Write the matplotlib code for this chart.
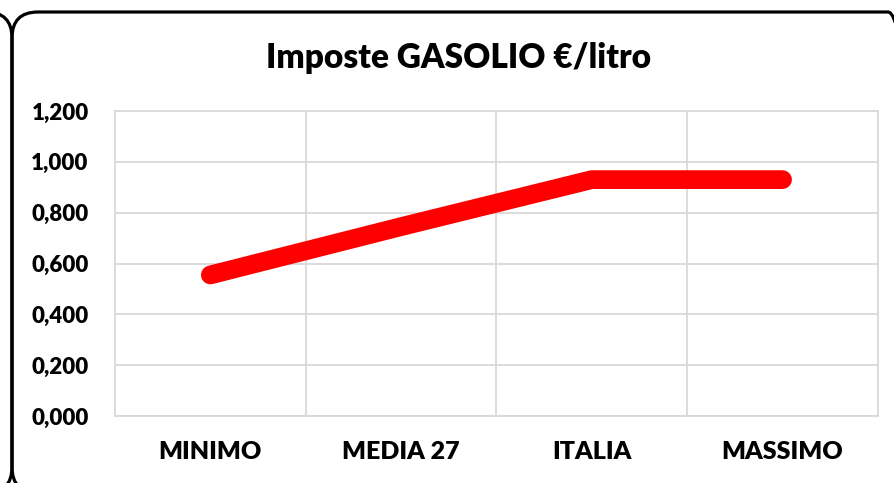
import matplotlib
matplotlib.use("Agg")
import matplotlib.pyplot as plt
from matplotlib.patches import FancyBboxPatch
from matplotlib.ticker import FuncFormatter

categories = ["MINIMO", "MEDIA 27", "ITALIA", "MASSIMO"]
values = [0.555, 0.745, 0.930, 0.930]
y_ticks = [0.0, 0.2, 0.4, 0.6, 0.8, 1.0, 1.2]

plt.rcParams['font.family'] = ['Lato', 'DejaVu Sans']

fig = plt.figure(figsize=(8.94, 4.83), dpi=100)
ax = fig.add_axes([0.1286, 0.1387, 0.982 - 0.1286, 0.7702 - 0.1387])

x = list(range(len(categories)))
ax.plot(x, values, color="#ff0000", linewidth=13.5, solid_capstyle="round",
        solid_joinstyle="round", zorder=3)

ax.set_xlim(-0.5, len(categories) - 0.5)
ax.set_ylim(0, 1.2)
ax.set_yticks(y_ticks)
ax.yaxis.set_major_formatter(FuncFormatter(lambda v, p: "{:.3f}".format(v).replace(".", ",")))
ax.set_xticks(x)
ax.set_xticklabels(categories)
ax.set_xticks([i + 0.5 for i in x[:-1]], minor=True)

grid_col = "#d9d9d9"
ax.grid(axis="y", which="major", color=grid_col, linewidth=1.3)
ax.grid(axis="x", which="minor", color=grid_col, linewidth=1.3)
ax.grid(axis="x", which="major", visible=False)
for s in ax.spines.values():
    s.set_color(grid_col)
    s.set_linewidth(1.3)
ax.tick_params(which="both", length=0)
ax.tick_params(axis="y", pad=19, labelsize=16)
ax.tick_params(axis="x", pad=18, labelsize=18)
for lab in ax.get_xticklabels() + ax.get_yticklabels():
    lab.set_fontweight("heavy")

fig.text(0.513, 0.88, "Imposte GASOLIO €/litro", ha="center", va="center",
         fontsize=24, fontweight="heavy")

# chart frames (this one and the edge of the neighbour on the left)
frame = FancyBboxPatch((0.12, -0.1), 9.02, 4.83 - 0.12 + 0.1,
                       boxstyle="round,pad=0,rounding_size=0.26",
                       transform=fig.dpi_scale_trans, fill=False,
                       edgecolor="black", linewidth=2.3)
fig.add_artist(frame)
left_frame = FancyBboxPatch((-3.0, -0.1), 3.12, 4.83 - 0.12 + 0.1,
                            boxstyle="round,pad=0,rounding_size=0.26",
                            transform=fig.dpi_scale_trans, fill=False,
                            edgecolor="black", linewidth=2.3)
fig.add_artist(left_frame)

fig.savefig("out.png", dpi=100)
